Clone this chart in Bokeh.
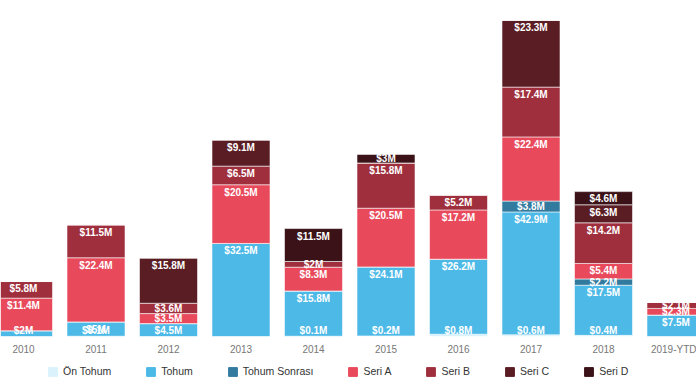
import numpy as np
from bokeh.plotting import figure
from bokeh.layouts import column
from bokeh.models import ColumnDataSource, Range1d, FixedTicker, Legend, LegendItem
from bokeh.core.properties import value
from bokeh.embed import file_html
from bokeh.resources import INLINE

# ---- data (USD millions) ----
years = ["2010", "2011", "2012", "2013", "2014", "2015", "2016", "2017", "2018", "2019-YTD"]
on_tohum      = [0.0, 0.1, 0.0, 0.0, 0.1, 0.2, 0.8, 0.6, 0.4, 0.0]
tohum         = [2.0, 5.0, 4.5, 32.5, 15.8, 24.1, 26.2, 42.9, 17.5, 7.5]
tohum_sonrasi = [0.0, 0.0, 0.0, 0.0, 0.0, 0.0, 0.0, 3.8, 2.2, 0.0]
seri_a        = [11.4, 22.4, 3.5, 20.5, 8.3, 20.5, 17.2, 22.4, 5.4, 2.3]
seri_b        = [5.8, 11.5, 3.6, 6.5, 2.0, 15.8, 5.2, 17.4, 14.2, 2.1]
seri_c        = [0.0, 0.0, 15.8, 9.1, 0.0, 0.0, 0.0, 23.3, 6.3, 0.0]
seri_d        = [0.0, 0.0, 0.0, 0.0, 11.5, 3.0, 0.0, 0.0, 4.6, 0.0]

series_keys = ["on_tohum", "tohum", "tohum_sonrasi", "seri_a", "seri_b", "seri_c", "seri_d"]
series_names = ["Ön Tohum", "Tohum", "Tohum Sonrası", "Seri A", "Seri B", "Seri C", "Seri D"]
series_vals = [on_tohum, tohum, tohum_sonrasi, seri_a, seri_b, seri_c, seri_d]
colors = ["#d9f2fc", "#4cb9e7", "#327b9f", "#e84a5c", "#9f2f3d", "#5a1d24", "#3a1217"]

FONT = value("Liberation Sans")

x = np.arange(len(years))
data = {"x": x}
for k, v in zip(series_keys, series_vals):
    data[k] = np.array(v, dtype=float)
source = ColumnDataSource(data)

totals = np.sum([np.array(v) for v in series_vals], axis=0)
FRAME_H = 338
y_end = totals.max() * FRAME_H / (FRAME_H - 20)
scale = FRAME_H / y_end  # px per unit

x0 = -23 / 72.5
p = figure(width=696, height=357, output_backend="svg", toolbar_location=None,
           x_range=Range1d(x0, x0 + 696 / 72.5), y_range=Range1d(0, y_end),
           y_axis_location=None,
           min_border_top=0, min_border_left=0, min_border_right=0, min_border_bottom=19)
p.outline_line_color = None
p.xgrid.visible = False
p.ygrid.visible = False
p.background_fill_color = "white"

p.vbar_stack(series_keys, x="x", width=0.8, color=colors, source=source,
             line_color="white", line_width=0.8, line_alpha=0.7)

# ---- data labels ----
lx, ly, lt = [], [], []
bottom = np.zeros(len(years))
for vals in series_vals:
    v = np.array(vals, dtype=float)
    for i in range(len(years)):
        if v[i] > 0:
            top = bottom[i] + v[i]
            h = v[i] * scale
            if h >= 15:
                yc = top - 7.5 / scale
            else:
                yc = (bottom[i] + top) / 2
            yc = max(yc, 6.5 / scale)
            lx.append(x[i])
            ly.append(yc)
            txt = ("%.1f" % v[i]).rstrip("0").rstrip(".")
            lt.append("$" + txt + "M")
    bottom = bottom + v

lsrc = ColumnDataSource(dict(x=lx, y=ly, t=lt))
p.text(x="x", y="y", text="t", source=lsrc, text_align="center", text_baseline="middle",
       text_color="white", text_font_size="10px", text_font=FONT, text_font_style="bold")

# ---- x axis ----
p.xaxis.ticker = FixedTicker(ticks=list(range(len(years))))
p.xaxis.major_label_overrides = {int(i): y for i, y in zip(x, years)}
p.xaxis.axis_line_color = None
p.xaxis.major_tick_line_color = None
p.xaxis.minor_tick_line_color = None
p.xaxis.major_tick_out = 0
p.xaxis.major_tick_in = 0
p.xaxis.major_label_standoff = 7
p.xaxis.major_label_text_font_size = "10px"
p.xaxis.major_label_text_color = "#777777"
p.xaxis.major_label_text_font = "Liberation Sans"

# ---- legend (separate strip below the chart) ----
lf = figure(width=696, height=28, output_backend="svg", toolbar_location=None,
            x_range=Range1d(0, 1), y_range=Range1d(0, 1),
            x_axis_location=None, y_axis_location=None,
            min_border_top=0, min_border_left=0, min_border_right=0, min_border_bottom=0)
lf.outline_line_color = None
lf.xgrid.visible = False
lf.ygrid.visible = False
items = []
for n, c in zip(series_names, colors):
    # placeholder glyph kept outside the visible range; only its legend swatch shows
    r = lf.vbar(x=[5], top=[1], width=0.1, fill_color=c, line_color=c)
    items.append(LegendItem(label=n, renderers=[r]))
legend = Legend(items=items, location=(47, 7), orientation="horizontal",
                glyph_width=11, glyph_height=11, label_standoff=5, spacing=34,
                padding=0, margin=0, label_height=14,
                label_text_font_size="10.5px", label_text_color="#333333",
                label_text_font="Liberation Sans",
                border_line_color=None, background_fill_alpha=0)
lf.add_layout(legend)

layout = column(p, lf, spacing=0)
open("out.html", "w").write(file_html(layout, INLINE))
